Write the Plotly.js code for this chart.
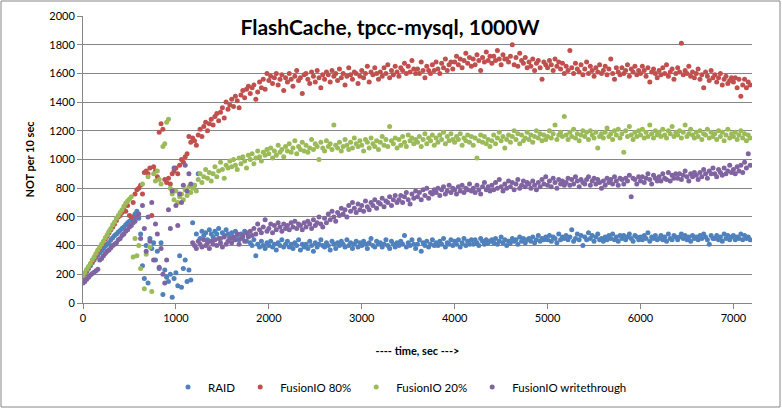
<!DOCTYPE html>
<html>
<head>
<meta charset="utf-8">
<script src="https://cdn.plot.ly/plotly-3.0.1.min.js"></script>
<style>html,body{margin:0;padding:0;background:#fff;}#chart{width:782px;height:409px;}</style>
</head>
<body>
<div id="chart"></div>
<script>
// sample interval of the time axis (sec)
const stepSec = 20;
const sampleCount = 360;
const timeSec = Array.from({length: sampleCount}, (_, i) => i * stepSec);

const seriesNames = ["RAID", "FusionIO 80%", "FusionIO 20%", "FusionIO writethrough"];

const raid = [
180,200,220,240,260,280,300,320,335,350,
365,380,395,410,420,440,455,470,480,495,
505,520,530,545,560,570,585,600,620,640,
590,480,260,170,400,140,450,380,420,300,
360,240,420,60,230,180,150,200,40,170,
210,120,330,110,240,300,150,230,160,560,
820,480,900,450,500,470,490,440,510,480,
460,500,480,520,450,490,470,510,480,460,
490,450,500,470,440,480,460,500,430,470,
420,400,440,330,410,390,430,400,380,420,
400,430,390,410,370,420,400,440,390,410,
430,390,410,380,420,400,440,370,410,390,
410,380,430,400,360,420,390,410,440,400,
390,420,400,370,430,410,380,420,400,430,
410,390,440,400,420,380,410,430,390,420,
400,430,410,380,420,450,400,390,430,410,
420,390,410,440,400,380,430,410,390,420,
400,430,410,470,390,420,400,440,410,380,
410,440,360,420,400,430,390,410,440,400,
420,400,430,410,450,390,420,410,440,400,
430,410,440,390,420,450,400,430,410,440,
410,440,420,400,450,430,410,440,420,430,
440,420,450,410,430,460,420,440,400,430,
420,450,430,440,410,460,430,450,420,440,
450,430,460,420,440,470,430,450,440,460,
440,470,430,460,450,420,480,440,460,450,
470,440,460,510,430,450,480,440,470,400,
460,440,490,450,470,430,460,480,440,450,
430,460,440,470,450,480,440,460,430,470,
450,470,440,460,480,450,430,470,460,440,
460,440,470,450,490,430,460,450,470,440,
450,470,440,460,430,480,450,440,470,460,
440,460,480,450,470,440,460,430,470,450,
460,440,470,450,480,460,440,410,470,450,
450,470,440,460,430,480,450,470,440,460,
470,440,460,450,480,440,470,450,460,440
];

const fusion80 = [
180,205,225,250,270,290,310,335,360,380,
400,420,445,465,490,510,530,550,575,600,
610,630,650,640,680,610,600,700,760,790,
800,820,760,910,920,900,940,610,950,920,
880,1190,1250,1210,860,840,870,830,900,920,
940,900,960,1000,980,1020,1040,1160,1120,1150,
1130,1100,1170,1210,1160,1230,1260,1200,1250,1280,
1240,1300,1320,1270,1330,1360,1290,1400,1350,1380,
1420,1370,1440,1410,1360,1450,1480,1430,1490,1510,
1460,1500,1520,1420,1470,1540,1500,1560,1490,1600,
1550,1580,1530,1570,1600,1520,1560,1590,1480,1570,
1540,1600,1560,1510,1580,1620,1550,1570,1460,1590,
1600,1560,1530,1610,1580,1540,1620,1570,1500,1590,
1560,1610,1590,1540,1620,1580,1600,1550,1630,1570,
1600,1520,1580,1640,1590,1560,1610,1600,1530,1580,
1620,1570,1600,1650,1540,1610,1590,1640,1600,1560,
1610,1580,1640,1600,1660,1570,1620,1590,1650,1610,
1580,1640,1620,1670,1600,1650,1610,1690,1630,1600,
1630,1600,1680,1620,1570,1650,1620,1600,1660,1620,
1680,1630,1600,1670,1640,1700,1620,1660,1680,1630,
1680,1720,1660,1700,1640,1690,1740,1670,1710,1650,
1700,1660,1730,1690,1620,1710,1680,1750,1690,1720,
1670,1720,1690,1760,1700,1660,1730,1700,1700,1680,
1720,1800,1660,1710,1650,1740,1690,1670,1710,1640,
1680,1650,1700,1620,1670,1690,1640,1560,1680,1660,
1640,1690,1660,1620,1700,1650,1680,1630,1670,1600,
1650,1620,1760,1640,1600,1670,1630,1610,1660,1590,
1630,1680,1600,1650,1620,1580,1640,1610,1660,1600,
1620,1650,1590,1630,1700,1600,1560,1640,1610,1590,
1640,1600,1620,1660,1580,1630,1610,1650,1590,1620,
1600,1650,1620,1580,1640,1540,1610,1630,1600,1570,
1620,1590,1640,1600,1660,1580,1610,1630,1560,1600,
1640,1610,1810,1590,1620,1600,1650,1580,1610,1570,
1600,1630,1560,1590,1500,1610,1580,1550,1620,1570,
1590,1540,1570,1600,1520,1560,1580,1530,1550,1570,
1540,1570,1500,1560,1440,1520,1560,1500,1540,1520
];

const fusion20 = [
190,210,235,255,275,300,320,345,370,390,
410,430,455,475,500,520,545,565,590,610,
630,650,675,695,710,725,740,320,450,330,
400,240,830,100,340,880,390,80,900,850,
920,860,830,1090,1110,1260,1280,800,760,720,
780,700,740,760,720,790,750,810,770,800,
820,780,860,900,840,880,930,870,910,850,
900,950,880,920,980,930,870,960,940,990,
950,1000,960,930,1010,970,1020,990,940,1030,
1000,1040,970,1010,1060,1020,990,1050,1030,1070,
1040,1080,1010,1060,1030,1100,1050,1070,1020,1090,
1060,1110,1050,1080,1130,1040,1090,1070,1120,1060,
1100,1050,1080,1140,1070,1110,1090,1000,1120,1080,
1060,1130,1090,1110,1070,1240,1100,1080,1120,1060,
1090,1140,1100,1070,1120,1080,1150,1110,1090,1130,
1100,1060,1140,1120,1080,1150,1110,1090,1130,1070,
1120,1160,1100,1140,1090,1230,1130,1110,1150,1080,
1140,1100,1160,1120,1090,1170,1130,1150,1110,1140,
1120,1160,1090,1140,1180,1110,1150,1130,1170,1100,
1150,1120,1170,1140,1190,1110,1160,1130,1180,1140,
1120,1160,1140,1180,1100,1150,1130,1170,1120,1160,
1100,1150,1010,1130,1170,1120,1160,1110,1140,1090,
1130,1170,1110,1150,1190,1130,1160,1080,1140,1170,
1120,1160,1200,1140,1180,1110,1170,1130,1150,1190,
1140,1170,1120,1160,1200,1150,1180,1130,1170,1140,
1160,1200,1150,1180,1240,1140,1170,1190,1160,1300,
1170,1140,1190,1160,1210,1150,1180,1130,1170,1200,
1160,1190,1140,1200,1170,1150,1190,1080,1160,1180,
1150,1190,1220,1160,1180,1140,1200,1170,1210,1150,
1180,1050,1200,1160,1230,1170,1140,1190,1160,1200,
1170,1210,1150,1190,1160,1240,1180,1150,1200,1170,
1190,1160,1210,1170,1150,1200,1180,1230,1160,1190,
1170,1200,1150,1190,1240,1160,1180,1210,1170,1150,
1190,1160,1200,1140,1180,1170,1210,1150,1190,1160,
1180,1140,1200,1160,1190,1130,1170,1210,1150,1180,
1160,1190,1140,1170,1200,1150,1180,1130,1170,1150
];

const writethrough = [
140,150,165,180,195,205,215,225,235,300,
310,330,345,360,370,385,400,410,420,440,
450,470,480,500,510,530,540,560,570,600,
620,450,680,520,360,600,430,700,300,550,
480,250,380,200,140,300,650,520,780,940,
680,540,760,700,820,960,780,900,830,420,
400,380,430,410,390,440,400,420,380,430,
410,440,400,450,420,390,460,410,430,450,
420,460,440,480,410,450,470,430,490,460,
500,470,520,480,550,510,490,530,580,500,
520,550,490,540,510,560,530,500,550,520,
540,510,560,530,570,520,550,540,510,560,
530,570,550,520,580,540,560,600,550,530,
590,560,620,580,640,600,570,630,610,660,
620,650,600,680,640,700,660,630,690,650,
680,640,710,670,650,700,680,720,660,700,
690,730,670,710,700,740,680,720,750,700,
720,750,700,740,770,720,690,760,730,780,
740,770,720,790,750,800,730,770,760,790,
770,800,750,790,810,760,780,820,770,800,
790,760,810,780,820,770,800,790,830,780,
800,770,820,790,760,810,840,790,810,780,
820,790,840,800,860,810,780,830,800,850,
810,840,790,830,860,800,820,850,810,840,
830,800,850,820,790,840,810,860,830,880,
820,850,810,870,840,800,860,830,850,820,
840,870,820,860,830,880,850,810,860,840,
830,860,880,820,850,870,830,860,840,800,
850,820,870,840,860,830,880,850,820,870,
860,830,870,850,890,740,870,860,830,880,
850,880,840,870,900,860,830,890,870,850,
880,850,900,870,860,910,850,890,870,900,
870,900,860,890,920,880,850,900,880,910,
890,860,910,880,930,900,870,920,900,940,
900,880,930,910,890,940,900,920,960,910,
930,900,950,920,960,910,980,940,1040,960
];

const yTickVals = [0,200,400,600,800,1000,1200,1400,1600,1800,2000];
const xTickVals = [0,1000,2000,3000,4000,5000,6000,7000];

const colors = ["#4F81BD", "#C0504D", "#9BBB59", "#8064A2"];
const allSeries = [raid, fusion80, fusion20, writethrough];

const FONT = "Lato, 'Liberation Sans', sans-serif";

const traces = allSeries.map((ys, k) => ({
  type: "scatter",
  mode: "markers",
  name: seriesNames[k],
  x: timeSec,
  y: ys,
  marker: {color: colors[k], size: 5, line: {width: 0}},
  hoverinfo: "skip"
}));

// outer chart border in paper coords of the plot area
const L = 83, R = 752, T = 16, B = 303;
const px = v => (v - L) / (R - L);
const py = v => (B - v) / (B - T);

const layout = {
  width: 782, height: 409,
  margin: {l: L, r: 782 - R, t: T, b: 409 - B},
  paper_bgcolor: "#ffffff",
  plot_bgcolor: "#ffffff",
  font: {family: FONT, size: 11, color: "#000"},
  title: {
    text: "<b>FlashCache, tpcc-mysql, 1000W</b>",
    font: {family: FONT, size: 21, color: "#000"},
    x: 390 / 782, xref: "container", xanchor: "center",
    y: 1 - 28 / 409, yref: "container", yanchor: "middle"
  },
  showlegend: true,
  legend: {
    orientation: "h",
    x: 400 / 782, xref: "container", xanchor: "center",
    y: 1 - 387 / 409, yref: "container", yanchor: "middle",
    font: {family: FONT, size: 11.5, color: "#000"},
    itemwidth: 30,
    bgcolor: "rgba(0,0,0,0)"
  },
  xaxis: {
    range: [0, 7200],
    tickvals: xTickVals,
    ticktext: xTickVals.map(String),
    showgrid: false,
    zeroline: false,
    showline: true, linecolor: "#868686", linewidth: 1,
    ticks: "outside", ticklen: 5, tickcolor: "#868686",
    tickfont: {family: FONT, size: 11, color: "#000"},
    title: {text: "<b>---- time, sec ---></b>", font: {family: FONT, size: 11, color: "#000"}, standoff: 24},
    fixedrange: true
  },
  yaxis: {
    range: [0, 2000],
    tickvals: yTickVals,
    ticktext: yTickVals.map(String),
    showgrid: true, gridcolor: "#868686", gridwidth: 1,
    zeroline: false,
    showline: true, linecolor: "#868686", linewidth: 1,
    ticks: "outside", ticklen: 5, tickcolor: "#868686",
    tickfont: {family: FONT, size: 11, color: "#000"},
    title: {text: "<b>NOT per 10 sec</b>", font: {family: FONT, size: 11, color: "#000"}, standoff: 12},
    fixedrange: true
  },
  shapes: [{
    type: "rect", xref: "paper", yref: "paper",
    x0: px(1), x1: px(780), y0: py(407), y1: py(1),
    line: {color: "#868686", width: 1}, fillcolor: "rgba(0,0,0,0)", layer: "below"
  }],
  hovermode: false
};

Plotly.newPlot("chart", traces, layout, {displayModeBar: false, staticPlot: true});
</script>
</body>
</html>
